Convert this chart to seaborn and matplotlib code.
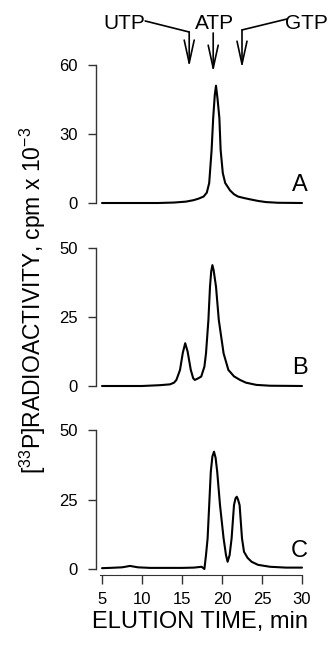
import matplotlib
matplotlib.use('Agg')
import matplotlib.pyplot as plt
import matplotlib.transforms as mtransforms
import seaborn as sns
import pandas as pd

# elution profiles (time in min, radioactivity in cpm x 10^-3)
time_a = [5, 8, 12, 14, 15.5, 16.4, 17.0, 17.7, 18.1, 18.4, 18.7, 18.9, 19.1, 19.25,
          19.45, 19.67, 19.83, 20.1, 20.4, 21.0, 21.5, 22.0, 22.7, 23.5, 24.5, 25.5, 27.0, 30.0]
cpm_a = [0, 0, 0, 0.2, 0.6, 1.2, 1.8, 2.8, 4.5, 8.7, 23, 37, 47, 51,
         45, 37, 23, 13, 8.7, 5.5, 3.8, 2.8, 2.2, 1.6, 0.9, 0.4, 0.1, 0]

time_b = [5, 10, 12.25, 13.5, 14.0, 14.3, 14.75, 15.1, 15.4, 15.7, 16.1, 16.4, 16.6, 16.9,
          17.4, 17.8, 18.0, 18.3, 18.5, 18.65, 18.8, 18.95, 19.25, 19.6, 20.2, 20.8, 21.5,
          22.25, 23.0, 24.3, 26, 30]
cpm_b = [0, 0, 0.3, 0.6, 1.2, 2.2, 5.8, 12, 15.5, 12.5, 5.8, 2.8, 2.2, 2.6,
         3.4, 7, 11.8, 23.9, 36, 41.5, 43.8, 42, 36, 23.9, 11.8, 5.8, 3.5,
         2.2, 1.2, 0.4, 0.1, 0]

time_c = [5, 6, 7.5, 8.5, 9.5, 11, 13, 15, 16.5, 17.45, 17.8, 18.0, 18.2, 18.4, 18.6, 18.8,
          19.0, 19.2, 19.4, 19.75, 20.2, 20.5, 20.7, 20.95, 21.2, 21.5, 21.7, 21.85, 22.0,
          22.2, 22.5, 22.75, 23.2, 23.7, 24.5, 26, 28, 30]
cpm_c = [0.3, 0.4, 0.6, 1.1, 0.6, 0.4, 0.4, 0.4, 0.5, 0.8, 0, 5, 11, 23, 35, 40.5,
         42.2, 40, 35, 23, 11, 5, 2.6, 5, 11, 23, 25.5, 26, 25,
         23, 11, 6.2, 4, 2.6, 1.5, 0.8, 0.5, 0.5]

panels = ['A', 'B', 'C']
y_ticks = [[0, 30, 60], [0, 25, 50], [0, 25, 50]]
x_ticks = [5, 10, 15, 20, 25, 30]

# standards marked on top
std_names = ['UTP', 'ATP', 'GTP']
std_time = [15.9, 18.9, 22.5]

sns.set_style('ticks')
plt.rcParams['font.family'] = ['Liberation Sans', 'DejaVu Sans']
plt.rcParams['mathtext.fontset'] = 'custom'
plt.rcParams['mathtext.rm'] = 'Liberation Sans'
plt.rcParams['mathtext.it'] = 'Liberation Sans:italic'
plt.rcParams['mathtext.bf'] = 'Liberation Sans:bold'
plt.rcParams['text.color'] = 'black'
plt.rcParams['axes.labelcolor'] = 'black'
plt.rcParams['xtick.color'] = '#333333'
plt.rcParams['ytick.color'] = '#333333'
plt.rcParams['xtick.labelcolor'] = 'black'
plt.rcParams['ytick.labelcolor'] = 'black'
plt.rcParams['axes.edgecolor'] = '#333333'

W, H = 332, 649
fig = plt.figure(figsize=(W / 100, H / 100), dpi=100)

# axes boxes in pixels: (left, top of tick range, bottom of tick range)
boxes = [(96, 65, 203), (96, 248, 386), (96, 430, 569)]
data = [(time_a, cpm_a), (time_b, cpm_b), (time_c, cpm_c)]
axes = []
for i, (left, top, bottom) in enumerate(boxes):
    ax = fig.add_axes([left / W, (H - bottom) / H, 208 / W, (bottom - top) / H])
    df = pd.DataFrame({'t': data[i][0], 'cpm': data[i][1]})
    sns.lineplot(data=df, x='t', y='cpm', ax=ax, color='black', lw=1.5, sort=False)
    for ln in ax.lines:
        ln.set_clip_on(False)
    ax.set_xlim(4.25, 30.25)
    ax.set_ylim(y_ticks[i][0], y_ticks[i][-1])
    ax.set_yticks(y_ticks[i])
    ax.set_ylabel('')
    ax.set_xlabel('')
    for s in ['top', 'right']:
        ax.spines[s].set_visible(False)
    ax.spines['left'].set_bounds(y_ticks[i][0], y_ticks[i][-1])
    ax.spines['left'].set_linewidth(1.0)
    ax.tick_params(axis='y', direction='out', length=6, width=1, pad=7, labelsize=12)
    if i < 2:
        ax.spines['bottom'].set_visible(False)
        ax.set_xticks([])
    else:
        ax.spines['bottom'].set_position(('outward', 4))
        ax.spines['bottom'].set_bounds(4.75, 30)
        ax.set_xticks(x_ticks)
        ax.tick_params(axis='x', direction='out', length=6.5, width=1, pad=6, labelsize=12)
        ax.set_xlabel('ELUTION TIME, min', fontsize=17, labelpad=3)
    ax.text(1.02, 0.085, panels[i], transform=ax.transAxes, ha='right', va='baseline',
            fontsize=17)
    ax.set_facecolor('none')
    axes.append(ax)

fig.text(33 / W, 1 - 300 / H, r'[$^{33}$P]RADIOACTIVITY, cpm x 10$^{-3}$',
         rotation=90, ha='center', va='center', fontsize=16.5)

# standards arrows above panel A
ax = axes[0]
tr = mtransforms.blended_transform_factory(ax.transData, ax.transAxes)
coords = ('data', 'axes fraction')
label_x = [7.75, 19.1, 30.6]
for name, lx in zip(std_names, label_x):
    ax.text(lx, 1.304, name, transform=tr, ha='center', va='center', fontsize=15)

arrow_style = dict(arrowstyle='->,head_length=1.65,head_width=0.36', lw=1.2,
                   color='black', shrinkA=0, shrinkB=0, mutation_scale=10)
# UTP: leader from label, bend, then down
ax.plot([10.4, std_time[0]], [1.319, 1.239], transform=tr, color='black', lw=1.2, clip_on=False)
ax.annotate('', xy=(std_time[0], 0.986), xytext=(std_time[0], 1.239),
            xycoords=coords, textcoords=coords, arrowprops=arrow_style)
# ATP: straight down
ax.annotate('', xy=(std_time[1], 0.949), xytext=(std_time[1], 1.232),
            xycoords=coords, textcoords=coords, arrowprops=arrow_style)
# GTP
ax.plot([28.1, std_time[2]], [1.333, 1.254], transform=tr, color='black', lw=1.2, clip_on=False)
ax.annotate('', xy=(std_time[2], 0.978), xytext=(std_time[2], 1.254),
            xycoords=coords, textcoords=coords, arrowprops=arrow_style)

fig.savefig('out.png', dpi=100, facecolor='white')
